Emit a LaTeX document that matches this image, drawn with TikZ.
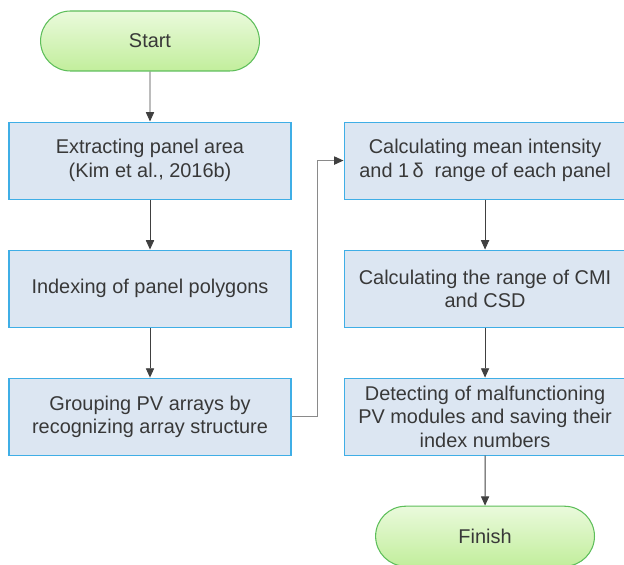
\documentclass[tikz,border=0pt]{standalone}
\usepackage{fontspec}
\setmainfont{Liberation Sans}
\usetikzlibrary{positioning,shapes.misc,arrows.meta}
\definecolor{boxfill}{HTML}{DCE6F2}
\definecolor{boxline}{HTML}{3FAEE6}
\definecolor{termtop}{HTML}{EAFADC}
\definecolor{termbot}{HTML}{C2EE9C}
\definecolor{termline}{HTML}{5DBE5A}
\definecolor{txt}{HTML}{383838}
\definecolor{arrowgray}{HTML}{404040}
\definecolor{loopgray}{HTML}{8A8A8A}

\begin{document}
\begin{tikzpicture}[node distance=1.5cm,
  every node/.style={font=\fontsize{17}{20}\selectfont, text=txt},
  stepbox/.style={rectangle, draw=boxline, fill=boxfill, line width=0.9pt, minimum width=8.46cm, minimum height=2.31cm, align=center},
  terminal/.style={rounded rectangle, draw=termline, top color=termtop, bottom color=termbot, line width=0.9pt, minimum width=6.8cm, minimum height=1.8cm},
  flow/.style={draw=arrowgray, line width=0.8pt, -{Triangle[length=8pt,width=7pt]}},
  elbow/.style={draw=loopgray, line width=1.1pt, -{Triangle[length=8pt,width=7pt,color=arrowgray]}}]
  \useasboundingbox (0,0) rectangle (18.72,-16.95);
  % left column
  \node (start) [terminal] at (4.5,-1.23) {Start};
  \node (extract) [stepbox, below=of start] {Extracting panel area\\(Kim et al., 2016b)};
  \node (index) [stepbox, below=of extract] {Indexing of panel polygons};
  \node (group) [stepbox, below=of index] {Grouping PV arrays by\\recognizing array structure};
  % right column
  \node (mean) [stepbox, right=1.56cm of extract] {Calculating mean intensity\\and 1\,δ~ range of each panel};
  \node (range) [stepbox, below=of mean] {Calculating the range of CMI\\and CSD};
  \node (detect) [stepbox, below=of range] {Detecting of malfunctioning\\PV modules and saving their\\index numbers};
  \node (finish) [terminal, below=of detect] {Finish};
  \draw[flow] (start) -- (extract);
  \draw[flow] (extract) -- (index);
  \draw[flow] (index) -- (group);
  \draw[elbow] (group.east) -- ++(0.78,0) |- (mean.west);
  \draw[flow] (mean) -- (range);
  \draw[flow] (range) -- (detect);
  \draw[flow] (detect) -- (finish);
\end{tikzpicture}
\end{document}
